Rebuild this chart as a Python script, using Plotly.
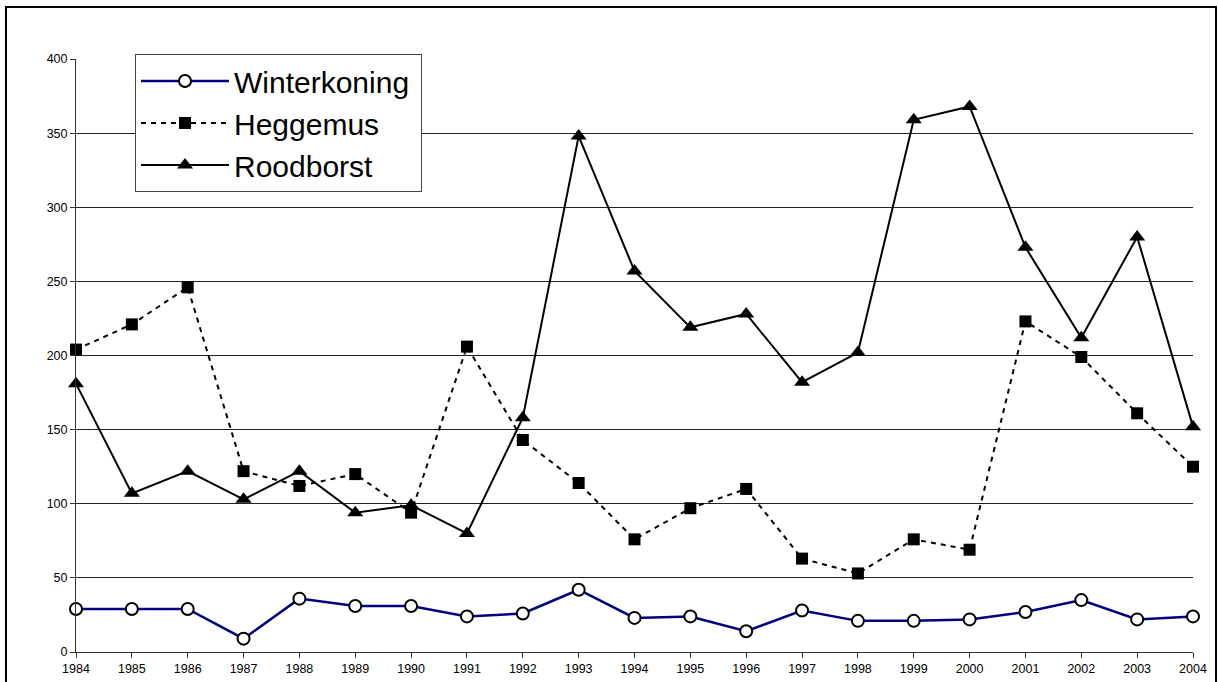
import plotly.graph_objects as go

years = list(range(1984, 2005))
winterkoning = [29, 29, 29, 9, 36, 31, 31, 24, 26, 42, 23, 24, 14, 28, 21, 21, 22, 27, 35, 22, 24]
heggemus = [204, 221, 246, 122, 112, 120, 94, 206, 143, 114, 76, 97, 110, 63, 53, 76, 69, 223, 199, 161, 125]
roodborst = [181, 107, 122, 103, 122, 94, 99, 80, 158, 348, 257, 219, 228, 182, 202, 359, 368, 273, 212, 280, 152]
y_ticks = [0, 50, 100, 150, 200, 250, 300, 350, 400]
grid_vals = [50, 100, 150, 200, 250, 300, 350]

W, H = 1218, 682
L, R, T, B = 76, 1193, 59, 652
pw, ph = R - L, B - T

fig = go.Figure()
fig.add_trace(go.Scatter(
    x=years, y=winterkoning, name="Winterkoning\u2009", mode="lines+markers",
    line=dict(color="#000080", width=2.5),
    marker=dict(symbol="circle", size=12, color="white", line=dict(color="black", width=2)),
    cliponaxis=False))
fig.add_trace(go.Scatter(
    x=years, y=heggemus, name="Heggemus", mode="lines+markers",
    line=dict(color="black", width=2, dash="5px,5px"),
    marker=dict(symbol="square", size=12, color="black"),
    cliponaxis=False))
fig.add_trace(go.Scatter(
    x=years, y=roodborst, name="Roodborst", mode="lines+markers",
    line=dict(color="black", width=2),
    marker=dict(symbol="triangle-up", size=14, color="black"),
    cliponaxis=False))

# invisible trace to carry the gridline axis
fig.add_trace(go.Scatter(x=[years[0]], y=[0], yaxis="y2", mode="markers",
                         marker=dict(opacity=0), showlegend=False, hoverinfo="skip"))

fig.update_layout(
    width=W, height=H,
    margin=dict(l=L, r=W - R, t=T, b=H - B, autoexpand=False),
    paper_bgcolor="white", plot_bgcolor="white",
    font=dict(family="Arial, Liberation Sans, sans-serif", color="black", size=12.5),
    xaxis=dict(range=[1984, 2004], tickvals=years, ticktext=[str(y) for y in years],
               showgrid=False, zeroline=False, showline=True, linecolor="#333333", linewidth=1,
               ticks="outside", ticklen=5, tickcolor="#333333", tickfont=dict(size=12.5),
               automargin=False),
    yaxis=dict(range=[0, 400], tickvals=y_ticks, showgrid=False, zeroline=False,
               showline=True, linecolor="#333333", linewidth=1,
               ticks="outside", ticklen=5, tickcolor="#333333", tickfont=dict(size=12.5),
               automargin=False),
    yaxis2=dict(range=[0, 400], overlaying="y", tickvals=grid_vals, showgrid=True,
                gridcolor="#222222", gridwidth=1, showticklabels=False, ticks="",
                zeroline=False, showline=False, automargin=False),
    legend=dict(x=(135 - L) / pw, y=(B - 54) / ph, xanchor="left", yanchor="top",
                bgcolor="white", bordercolor="#444444", borderwidth=1,
                font=dict(size=30, family="Arial, Liberation Sans, sans-serif"),
                itemwidth=88, tracegroupgap=0),
    showlegend=True,
    shapes=[dict(type="rect", xref="paper", yref="paper",
                 x0=(6 - L) / pw, x1=(1216 - L) / pw,
                 y0=-0.2, y1=(B - 7) / ph,
                 line=dict(color="black", width=2), fillcolor="rgba(0,0,0,0)", layer="below")],
)

fig.write_html("out.html", config={"displayModeBar": False},
               post_script="document.body.style.margin='0';document.body.style.overflow='hidden';")
